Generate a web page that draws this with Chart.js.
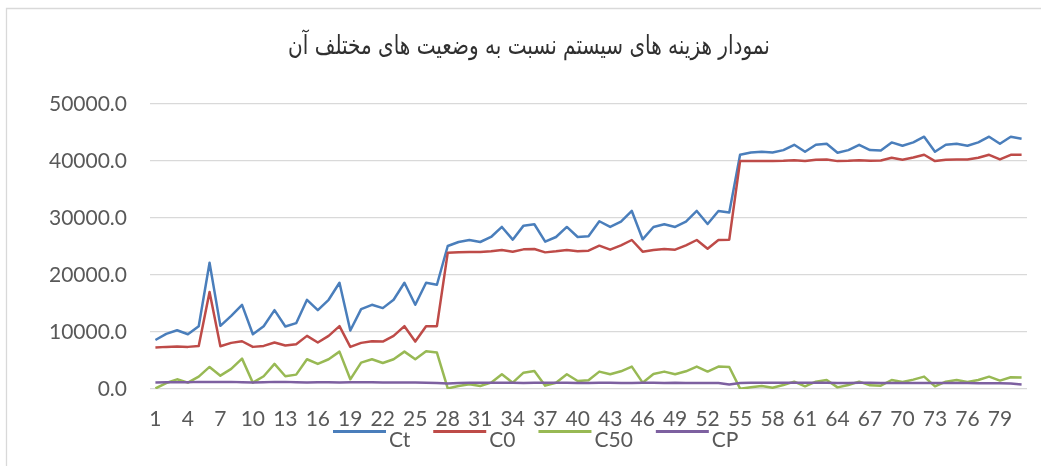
<!DOCTYPE html>
<html>
<head>
<meta charset="utf-8">
<script src="https://cdn.jsdelivr.net/npm/chart.js@4.4.0/dist/chart.umd.min.js"></script>
<style>
body { margin: 0; background: #fff; }
#wrap { position: relative; width: 1041px; height: 466px; }
</style>
</head>
<body>
<div id="wrap"><canvas id="chart"></canvas></div>
<script>
const titleText = 'نمودار هزینه های سیستم نسبت به وضعیت های مختلف آن';

const categories = [
  1, 2, 3, 4, 5, 6, 7, 8, 9, 10, 11, 12, 13, 14, 15, 16, 17, 18, 19, 20,
  21, 22, 23, 24, 25, 26, 27, 28, 29, 30, 31, 32, 33, 34, 35, 36, 37, 38, 39, 40,
  41, 42, 43, 44, 45, 46, 47, 48, 49, 50, 51, 52, 53, 54, 55, 56, 57, 58, 59, 60,
  61, 62, 63, 64, 65, 66, 67, 68, 69, 70, 71, 72, 73, 74, 75, 76, 77, 78, 79, 80, 81
];

const ct = [
  8600, 9670, 10300, 9600, 11000, 22150, 11080, 12840, 14770, 9610, 11020, 13830, 10960, 11550,
  15650, 13830, 15650, 18640, 10260, 14010, 14770, 14190, 15650, 18640, 14770, 18640, 18290,
  25090, 25790, 26140, 25790, 26670, 28430, 26200, 28660, 28900, 25850, 26670, 28430, 26670, 26790,
  29430, 28430, 29370, 31240, 26260, 28430, 28900, 28430, 29370, 31240, 28960, 31240, 30950,
  41090, 41500, 41620, 41500, 41910, 42850, 41620, 42850, 43020, 41440, 41910, 42850, 41910, 41850,
  43260, 42670, 43260, 44260, 41620, 42850, 43020, 42670, 43260, 44260, 43020, 44260, 43900
];

const c0 = [
  7270, 7390, 7440, 7390, 7560, 17000, 7500, 8090, 8380, 7390, 7560, 8150, 7620, 7850,
  9320, 8150, 9320, 11020, 7390, 8090, 8380, 8320, 9320, 11020, 8320, 11020, 11020,
  23920, 23970, 24030, 24030, 24150, 24380, 24090, 24500, 24560, 23970, 24150, 24380, 24150, 24270,
  25150, 24440, 25210, 26140, 24090, 24380, 24560, 24440, 25210, 26140, 24620, 26140, 26200,
  39980, 39980, 39980, 39980, 40040, 40150, 39980, 40210, 40270, 39980, 40040, 40150, 40040, 40100,
  40560, 40210, 40620, 41090, 39980, 40210, 40270, 40270, 40560, 41090, 40270, 41090, 41090
];

const c50 = [
  100, 1050, 1700, 1110, 2170, 3870, 2340, 3520, 5330, 1110, 2230, 4400, 2230, 2520,
  5220, 4400, 5220, 6560, 1700, 4630, 5220, 4570, 5220, 6560, 5220, 6620, 6390,
  100, 530, 820, 530, 1110, 2580, 1110, 2870, 3170, 590, 1110, 2580, 1410, 1520,
  3050, 2580, 3110, 3930, 1110, 2640, 3050, 2580, 3110, 3930, 3050, 3930, 3870,
  60, 290, 530, 230, 700, 1290, 470, 1290, 1580, 290, 700, 1290, 640, 590,
  1580, 1230, 1640, 2170, 470, 1290, 1580, 1230, 1580, 2170, 1470, 2050, 2000
];

const cp = [
  1150, 1200, 1200, 1200, 1250, 1250, 1250, 1250, 1200, 1150, 1200, 1250, 1250, 1200,
  1150, 1200, 1200, 1150, 1200, 1200, 1200, 1150, 1150, 1150, 1150, 1100, 1050,
  950, 1050, 1100, 1100, 1100, 1100, 1100, 1050, 1100, 1100, 1100, 1100, 1050, 1050,
  1100, 1100, 1050, 1050, 1100, 1100, 1050, 1100, 1050, 1050, 1050, 1050, 800,
  1050, 1100, 1100, 1100, 1100, 1100, 1100, 1100, 1100, 1050, 1050, 1100, 1100, 1050,
  1050, 1050, 1050, 1050, 1050, 1050, 1050, 1050, 1000, 1000, 1000, 950, 800
];

const seriesNames = ['Ct', 'C0', 'C50', 'CP'];
const seriesColors = ['#4a7ebb', '#be4b48', '#98b954', '#7d60a0'];
const yTicks = [0, 10000, 20000, 30000, 40000, 50000];

const FONT = 'Lato';
const TITLE_FONT = 'DejaVu Sans';
const TEXT_COLOR = '#595959';

// titre, legende et bordure dessines a la main
const decorPlugin = {
  id: 'decor',
  afterDraw(chart) {
    const ctx = chart.ctx;
    ctx.save();

    // bordure du cadre (seulement gauche et haut visibles)
    ctx.strokeStyle = '#d9d9d9';
    ctx.lineWidth = 1.3;
    ctx.beginPath();
    ctx.moveTo(6.5, 466);
    ctx.lineTo(6.5, 8.5);
    ctx.lineTo(1041, 8.5);
    ctx.stroke();

    // titre (etire en hauteur pour ressembler a la police d'origine)
    let size = 20;
    ctx.font = size + 'px "' + TITLE_FONT + '"';
    const w = ctx.measureText(titleText).width;
    size = size * 482 / w;
    ctx.font = size.toFixed(2) + 'px "' + TITLE_FONT + '"';
    ctx.fillStyle = '#303030';
    ctx.textAlign = 'center';
    ctx.textBaseline = 'alphabetic';
    ctx.direction = 'rtl';
    ctx.save();
    ctx.translate(529, 54);
    ctx.scale(1, 1.3);
    ctx.fillText(titleText, 0, 0);
    ctx.restore();
    ctx.direction = 'ltr';

    // legende
    ctx.font = '21px "' + FONT + '"';
    ctx.textAlign = 'left';
    let x = 333;
    chart.data.datasets.forEach((ds) => {
      ctx.strokeStyle = ds.borderColor;
      ctx.lineWidth = 3;
      ctx.beginPath();
      ctx.moveTo(x, 431.5);
      ctx.lineTo(x + 53, 431.5);
      ctx.stroke();
      ctx.fillStyle = TEXT_COLOR;
      ctx.fillText(ds.label, x + 56, 447);
      x += 56 + ctx.measureText(ds.label).width + 23;
    });

    ctx.restore();
  }
};

const seriesData = [ct, c0, c50, cp];

new Chart(document.getElementById('chart'), {
  type: 'line',
  data: {
    labels: categories,
    datasets: seriesNames.map((name, i) => ({
      label: name,
      data: seriesData[i],
      borderColor: seriesColors[i],
      backgroundColor: seriesColors[i],
      borderWidth: 2.5,
      pointRadius: 0,
      pointHoverRadius: 0,
      tension: 0,
      borderJoinStyle: 'round',
      order: 4 - i
    }))
  },
  options: {
    responsive: true,
    maintainAspectRatio: false,
    animation: false,
    events: [],
    layout: { padding: { top: 104, right: 14, bottom: 0, left: 0 } },
    plugins: {
      legend: { display: false },
      title: { display: false },
      tooltip: { enabled: false }
    },
    scales: {
      x: {
        offset: true,
        grid: { display: false, drawTicks: false },
        border: { display: false },
        afterFit(scale) { scale.height = 77; },
        ticks: {
          autoSkip: false,
          maxRotation: 0,
          minRotation: 0,
          padding: 18,
          color: TEXT_COLOR,
          font: { family: FONT, size: 21 },
          callback(value, index) {
            return index % 3 === 0 ? categories[index] : '';
          }
        }
      },
      y: {
        min: yTicks[0],
        max: yTicks[yTicks.length - 1],
        afterBuildTicks(scale) { scale.ticks = yTicks.map(v => ({ value: v })); },
        afterFit(scale) { scale.width = 150; },
        grid: { color: '#d9d9d9', lineWidth: 1.3, drawTicks: false },
        border: { display: false },
        ticks: {
          padding: 23,
          color: TEXT_COLOR,
          font: { family: FONT, size: 21 },
          callback: v => Number(v).toFixed(1)
        }
      }
    }
  },
  plugins: [decorPlugin]
});
</script>
</body>
</html>
